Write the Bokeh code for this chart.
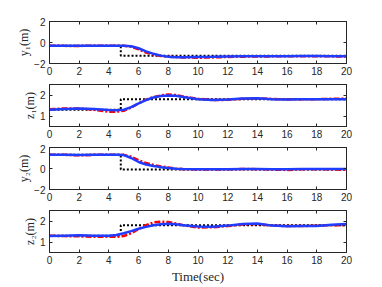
from bokeh.plotting import figure
from bokeh.layouts import column
from bokeh.models import LinearAxis, FixedTicker, Range1d, CustomJSTickFormatter
from bokeh.embed import file_html
from bokeh.resources import INLINE

# ---------------- data ----------------
t_ref = [0, 4.8, 4.8, 20]
y1_ref = [-0.3, -0.3, -1.25, -1.25]
z1_ref = [1.3, 1.3, 1.8, 1.8]
y2_ref = [1.3, 1.3, -0.1, -0.1]
z2_ref = [1.3, 1.3, 1.8, 1.8]

t1 = [0, 1, 2, 3, 4, 5, 5.5, 6, 6.5, 7, 7.5, 8, 8.5, 9, 10, 11, 12, 13, 14, 15, 16, 17, 18, 19, 20]
y1_blue = [-0.32, -0.32, -0.3, -0.3, -0.3, -0.3, -0.35, -0.55, -0.85, -1.08, -1.25, -1.35, -1.4, -1.4,
           -1.38, -1.36, -1.33, -1.3, -1.3, -1.3, -1.3, -1.28, -1.28, -1.3, -1.3]
y1_red = [-0.3, -0.32, -0.33, -0.3, -0.3, -0.32, -0.4, -0.65, -0.95, -1.15, -1.28, -1.35, -1.38, -1.42,
          -1.45, -1.42, -1.38, -1.35, -1.33, -1.32, -1.32, -1.3, -1.3, -1.32, -1.33]

t2 = [0, 1, 2, 3, 4, 4.5, 5, 5.5, 6, 6.5, 7, 7.5, 8, 8.5, 9, 10, 11, 12, 13, 14, 15, 16, 17, 18, 19, 20]
z1_blue = [1.3, 1.33, 1.36, 1.33, 1.28, 1.27, 1.3, 1.42, 1.6, 1.76, 1.88, 1.95, 1.98, 1.96, 1.9, 1.8,
           1.76, 1.78, 1.83, 1.84, 1.8, 1.79, 1.8, 1.8, 1.8, 1.8]
z1_red = [1.32, 1.36, 1.36, 1.3, 1.2, 1.2, 1.25, 1.4, 1.6, 1.78, 1.9, 1.98, 2.02, 2.0, 1.93, 1.82,
          1.76, 1.77, 1.82, 1.84, 1.81, 1.79, 1.8, 1.8, 1.82, 1.83]

t3 = [0, 1, 2, 3, 4, 4.5, 5, 5.5, 6, 6.5, 7, 7.5, 8, 8.5, 9, 10, 11, 12, 13, 14, 15, 16, 17, 18, 19, 20]
y2_blue = [1.3, 1.3, 1.28, 1.3, 1.3, 1.3, 1.28, 1.0, 0.62, 0.38, 0.24, 0.13, 0.04, -0.02, -0.05, -0.07,
           -0.07, -0.06, -0.05, -0.05, -0.06, -0.07, -0.05, -0.04, -0.05, -0.05]
y2_red = [1.32, 1.3, 1.25, 1.3, 1.3, 1.3, 1.3, 1.12, 0.78, 0.52, 0.34, 0.2, 0.1, 0.0, -0.06, -0.1,
          -0.1, -0.08, -0.05, -0.06, -0.1, -0.14, -0.08, -0.06, -0.1, -0.12]

t4 = [0, 1, 2, 3, 4, 4.5, 5, 5.5, 6, 6.5, 7, 7.5, 8, 8.5, 9, 10, 11, 12, 13, 14, 15, 16, 17, 18, 19, 20]
z2_blue = [1.28, 1.3, 1.32, 1.3, 1.3, 1.33, 1.42, 1.52, 1.63, 1.72, 1.8, 1.85, 1.87, 1.85, 1.8, 1.74,
           1.73, 1.78, 1.86, 1.88, 1.78, 1.75, 1.76, 1.76, 1.82, 1.86]
z2_red = [1.3, 1.28, 1.27, 1.25, 1.25, 1.25, 1.28, 1.42, 1.62, 1.8, 1.93, 1.97, 1.95, 1.88, 1.8, 1.69,
          1.7, 1.76, 1.83, 1.85, 1.78, 1.76, 1.76, 1.78, 1.8, 1.8]

x_ticks = [0, 2, 4, 6, 8, 10, 12, 14, 16, 18, 20]
y_ticks_y = [-2, 0, 2]
y_ticks_z = [1, 2]
labels = ["y\u2081(m)", "z\u2081(m)", "y\u2082(m)", "z\u2082(m)"]

AX = "#262626"
TICK_FONT = "Liberation Sans"
LABEL_FONT = "Liberation Serif"


def mirror_axis(ticks):
    return LinearAxis(ticker=FixedTicker(ticks=ticks), major_tick_in=3, major_tick_out=0,
                      minor_tick_line_color=None,
                      formatter=CustomJSTickFormatter(code="return ''"),
                      major_label_standoff=0, axis_line_color=AX, major_tick_line_color=AX)


def make_panel(t, blue, red, ref, yr, yticks, ylabel, top, bottom, xlabel=None):
    p = figure(frame_width=297, frame_height=42, output_backend="svg", toolbar_location=None,
               x_range=Range1d(0, 20), y_range=Range1d(*yr),
               min_border_left=49, min_border_right=30, min_border_top=top, min_border_bottom=bottom)
    p.background_fill_color = "white"
    p.border_fill_color = "white"
    p.outline_line_color = AX
    p.outline_line_width = 1
    p.grid.visible = False
    p.xaxis.ticker = FixedTicker(ticks=x_ticks)
    p.yaxis.ticker = FixedTicker(ticks=yticks)
    for ax in (p.xaxis[0], p.yaxis[0]):
        ax.major_tick_in = 3
        ax.major_tick_out = 0
        ax.minor_tick_line_color = None
        ax.axis_line_color = AX
        ax.major_tick_line_color = AX
        ax.major_label_text_font = TICK_FONT
        ax.major_label_text_font_size = "10px"
        ax.major_label_text_color = AX
        ax.major_label_standoff = 3
    p.yaxis.major_label_standoff = 4
    p.yaxis.axis_label = ylabel
    p.yaxis.axis_label_text_font = LABEL_FONT
    p.yaxis.axis_label_text_font_style = "normal"
    p.yaxis.axis_label_text_font_size = "12px"
    p.yaxis.axis_label_text_color = AX
    p.yaxis.axis_label_standoff = 0
    if xlabel:
        p.xaxis.axis_label = xlabel
        p.xaxis.axis_label_text_font = LABEL_FONT
        p.xaxis.axis_label_text_font_style = "normal"
        p.xaxis.axis_label_text_font_size = "13px"
        p.xaxis.axis_label_text_color = AX
        p.xaxis.axis_label_standoff = 2
    p.add_layout(mirror_axis(x_ticks), "above")
    p.add_layout(mirror_axis(yticks), "right")

    p.line(t_ref, ref, line_color="black", line_width=2, line_dash="2 2")
    p.line(t, red, line_color="#ff0000", line_width=2.5, line_dash="6 2 2 2")
    p.line(t, blue, line_color="#1f3cff", line_width=2.5)
    return p


p1 = make_panel(t1, y1_blue, y1_red, y1_ref, (-2, 2), y_ticks_y, labels[0], 21, 18)
p2 = make_panel(t2, z1_blue, z1_red, z1_ref, (0.5, 2.5), y_ticks_z, labels[1], 3, 18)
p3 = make_panel(t3, y2_blue, y2_red, y2_ref, (-2, 2), y_ticks_y, labels[2], 3, 18)
p4 = make_panel(t4, z2_blue, z2_red, z2_ref, (0.5, 2.5), y_ticks_z, labels[3], 3, 32, xlabel="Time(sec)")

layout = column(p1, p2, p3, p4, spacing=0)

with open("out.html", "w") as f:
    f.write(file_html(layout, INLINE))
